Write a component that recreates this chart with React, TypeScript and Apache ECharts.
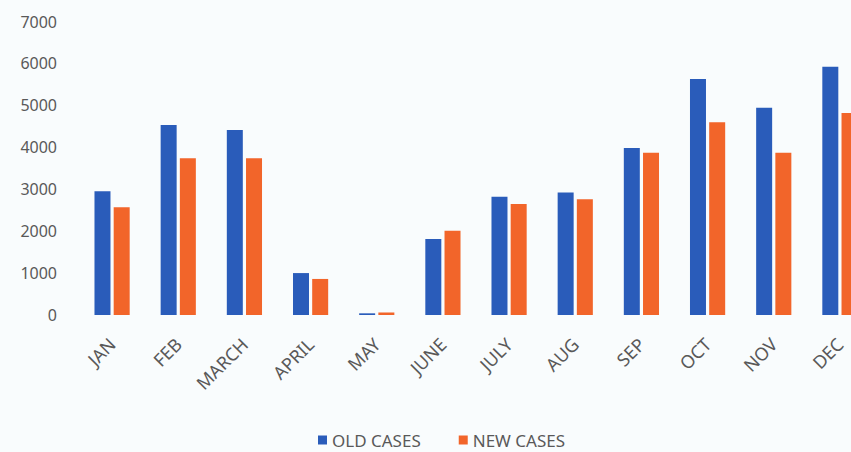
import React, { useEffect, useRef } from "react";
import * as echarts from "echarts";

const categories = ["JAN", "FEB", "MARCH", "APRIL", "MAY", "JUNE", "JULY", "AUG", "SEP", "OCT", "NOV", "DEC"];
const oldCases = [2950, 4530, 4410, 1000, 40, 1810, 2820, 2920, 3980, 5630, 4940, 5920];
const newCases = [2570, 3740, 3740, 860, 60, 2010, 2650, 2760, 3870, 4600, 3870, 4820];
const seriesNames = ["OLD CASES", "NEW CASES"];

export default function App() {
  const ref = useRef<HTMLDivElement>(null);
  useEffect(() => {
    if (!ref.current) return;
    const chart = echarts.init(ref.current, null, { renderer: "svg" });
    const font = "'Noto Sans', sans-serif";
    chart.setOption({
      animation: false,
      backgroundColor: "#f9fcfd",
      textStyle: { fontFamily: font },
      grid: { left: 79, top: 21.5, width: 794, height: 293.5, outerBoundsMode: "none", containLabel: false },
      legend: {
        left: 318,
        top: 431,
        padding: 0,
        itemWidth: 9,
        itemHeight: 9,
        itemGap: 38,
        icon: "rect",
        textStyle: { color: "#595959", fontSize: 17, fontFamily: font, lineHeight: 18 },
        data: seriesNames,
      },
      xAxis: {
        type: "category",
        data: categories,
        axisLine: { show: false },
        axisTick: { show: false },
        axisLabel: {
          rotate: 45,
          margin: 26,
          interval: 0,
          color: "#595959",
          fontSize: 18,
          fontFamily: font,
        },
      },
      yAxis: {
        type: "value",
        min: 0,
        max: 7000,
        interval: 1000,
        axisLine: { show: false },
        axisTick: { show: false },
        splitLine: { show: false },
        axisLabel: {
          color: "#595959",
          fontSize: 16,
          margin: 22,
          fontFamily: font,
          formatter: (v: number) => String(v),
        },
      },
      series: [
        {
          name: seriesNames[0],
          type: "bar",
          data: oldCases,
          barWidth: 16,
          barGap: "20%",
          itemStyle: { color: "#2a5cba" },
        },
        {
          name: seriesNames[1],
          type: "bar",
          data: newCases,
          barWidth: 16,
          barGap: "20%",
          itemStyle: { color: "#f2652a" },
        },
      ],
    });
    return () => chart.dispose();
  }, []);
  return (
    <div
      ref={ref}
      style={{ position: "absolute", left: 0, top: 0, width: 851, height: 452 }}
    />
  );
}
